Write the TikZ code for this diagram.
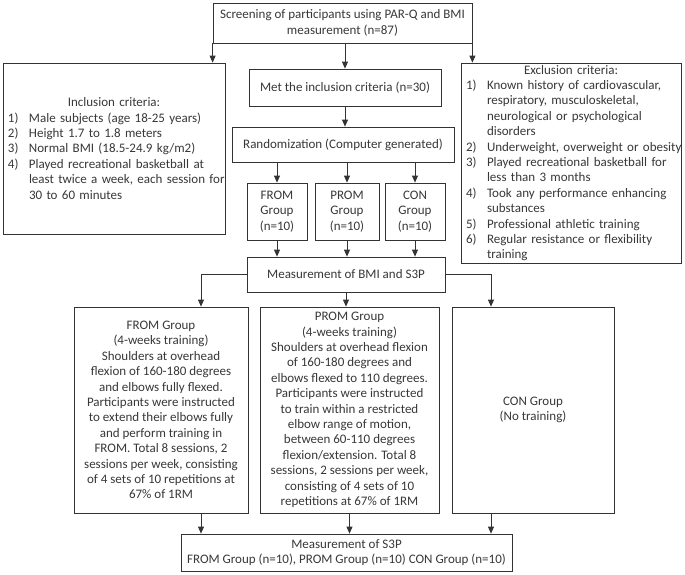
\documentclass[tikz,border=0pt]{standalone}
\usepackage{fontspec}
\setmainfont{Carlito}
\usetikzlibrary{arrows.meta}
\newcommand{\itm}[2]{\mbox{\makebox[21pt][l]{#1}#2}}
\newcommand{\cnt}[1]{\mbox{\hspace*{21pt}#1}}
\tikzset{
  box/.style={draw=black!80, line width=0.8pt, inner sep=0pt, align=center,
    text=black!78, font=\fontsize{13}{15.4}\selectfont},
  listbox/.style={box, align=left, inner xsep=5pt, inner ysep=0pt},
  arr/.style={draw=black!80, line width=0.8pt, -{Triangle[length=7pt,width=6pt]}}
}
\begin{document}
\begin{tikzpicture}[x=1pt,y=-1pt]
\useasboundingbox[fill=white] (0,0) rectangle (685,574);

\node[box, minimum width=259pt, minimum height=40pt] (top) at (342.5,23)
  {Screening of participants using PAR-Q and BMI\\measurement (n=87)};

\node[listbox, text width=212pt, minimum height=171pt] (incl) at (114,148.5)
  {\centerline{Inclusion criteria:}
   \itm{1)}{Male subjects (age 18-25 years)}\\
   \itm{2)}{Height 1.7 to 1.8 meters}\\
   \itm{3)}{Normal BMI (18.5-24.9 kg/m2)}\\
   \itm{4)}{Played recreational basketball at}\\
   \cnt{least twice a week, each session for}\\
   \cnt{30 to 60 minutes}};

\node[listbox, text width=210pt, minimum height=200pt] (excl) at (571,163)
  {\centerline{Exclusion criteria:}
   \itm{1)}{Known history of cardiovascular,}\\
   \cnt{respiratory, musculoskeletal,}\\
   \cnt{neurological or psychological}\\
   \cnt{disorders}\\
   \itm{2)}{Underweight, overweight or obesity}\\
   \itm{3)}{Played recreational basketball for}\\
   \cnt{less than 3 months}\\
   \itm{4)}{Took any performance enhancing}\\
   \cnt{substances}\\
   \itm{5)}{Professional athletic training}\\
   \itm{6)}{Regular resistance or flexibility}\\
   \cnt{training}};

\node[box, minimum width=192pt, minimum height=37pt] (met) at (345,87.5)
  {Met the inclusion criteria (n=30)};
\node[box, minimum width=222pt, minimum height=35pt] (rand) at (343,144.5)
  {Randomization (Computer generated)};

\node[box, minimum width=60pt, minimum height=57pt] (g1) at (277,211.5)
  {FROM\\Group\\(n=10)};
\node[box, minimum width=64pt, minimum height=57pt] (g2) at (347,211.5)
  {PROM\\Group\\(n=10)};
\node[box, minimum width=60pt, minimum height=57pt] (g3) at (415,211.5)
  {CON\\Group\\(n=10)};

\node[box, minimum width=198pt, minimum height=35pt] (meas) at (346,274.5)
  {Measurement of BMI and S3P};

\node[box, minimum width=174pt, minimum height=206pt] (L1) at (161,410)
  {FROM Group\\(4-weeks training)\\Shoulders at overhead\\flexion of 160-180 degrees\\and elbows fully flexed.\\Participants were instructed\\to extend their elbows fully\\and perform training in\\FROM. Total 8 sessions, 2\\sessions per week, consisting\\of 4 sets of 10 repetitions at\\67\% of 1RM};
\node[box, minimum width=179pt, minimum height=206pt] (L2) at (349.5,410)
  {PROM Group\\(4-weeks training)\\Shoulders at overhead flexion\\of 160-180 degrees and\\elbows flexed to 110 degrees.\\Participants were instructed\\to train within a restricted\\elbow range of motion,\\between 60-110 degrees\\flexion/extension. Total 8\\sessions, 2 sessions per week,\\consisting of 4 sets of 10\\repetitions at 67\% of 1RM};
\node[box, minimum width=162pt, minimum height=206pt] (L3) at (533,410)
  {CON Group\\(No training)};

\node[box, minimum width=331pt, minimum height=37pt] (bot) at (346.5,552.5)
  {Measurement of S3P\\FROM Group (n=10), PROM Group (n=10) CON Group (n=10)};

% connectors
\draw[arr] (top.south west) -- (top.south west |- incl.north);
\draw[arr] (top.south east) -- (top.south east |- excl.north);
\draw[arr] (met.north |- top.south) -- (met.north);
\draw[arr] (met.south) -- (met.south |- rand.north);
\draw[arr] (g1.north |- rand.south) -- (g1.north);
\draw[arr] (g2.north |- rand.south) -- (g2.north);
\draw[arr] (g3.north |- rand.south) -- (g3.north);
\draw[arr] (g1.south) -- (g1.south |- meas.north);
\draw[arr] (g2.south) -- (g2.south |- meas.north);
\draw[arr] (g3.south) -- (g3.south |- meas.north);
\draw[arr] (meas.west) -| ([xshift=40pt]L1.north);
\draw[arr] (meas.south) -- (meas.south |- L2.north);
\draw[arr] (meas.east) -| ([xshift=-42pt]L3.north);
\draw[arr] ([xshift=40pt]L1.south) -- ([xshift=40pt]L1.south |- bot.north);
\draw[arr] (L2.south) -- (L2.south |- bot.north);
\draw[arr] ([xshift=-42pt]L3.south) -- ([xshift=-42pt]L3.south |- bot.north);
\end{tikzpicture}
\end{document}
